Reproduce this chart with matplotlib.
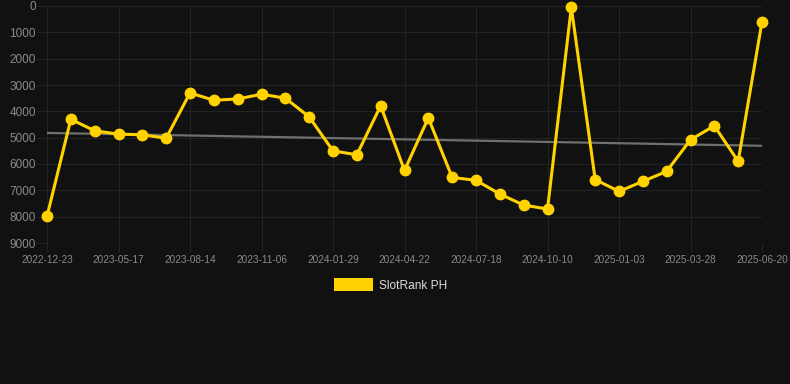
import numpy as np
import matplotlib
matplotlib.use("Agg")
import matplotlib.pyplot as plt

plt.rcParams["font.family"] = ["Liberation Sans", "DejaVu Sans"]

# category labels shown on the x axis (every third point)
tick_labels = ["2022-12-23", "2023-05-17", "2023-08-14", "2023-11-06", "2024-01-29",
               "2024-04-22", "2024-07-18", "2024-10-10", "2025-01-03", "2025-03-28",
               "2025-06-20"]

# rank values, one per sample
ranks = [7990, 4300, 4740, 4865, 4890, 5020, 3300, 3580, 3530, 3350,
         3500, 4210, 5500, 5650, 3790, 6245, 4250, 6510, 6620, 7140,
         7560, 7710, 50, 6590, 7040, 6660, 6280, 5080, 4550, 5900, 595]

series_name = "SlotRank PH"

bg = "#111111"
gold = "#FFD200"
grid_c = "#232323"
text_c = "#8a8a8a"

x = np.arange(len(ranks))
slope, icpt = np.polyfit(x, ranks, 1)

fig = plt.figure(figsize=(7.9, 3.84), dpi=100, facecolor=bg)
ax = fig.add_axes([47 / 790, 1 - 243 / 384, 715 / 790, 237 / 384], facecolor=bg)

ax.plot(x, slope * x + icpt, color="#707070", lw=1.6, zorder=2)
ax.plot(x, ranks, color=gold, lw=2.2, marker="o", ms=7.5, zorder=3,
        clip_on=False, label=series_name)

ax.set_xlim(0, len(ranks) - 1)
ax.set_ylim(9000, 0)
ax.set_yticks(range(0, 9001, 1000))
ax.set_xticks(x[::3])
ax.set_xticklabels(tick_labels)
ax.grid(True, color=grid_c, lw=0.8)
ax.set_axisbelow(True)
for s in ax.spines.values():
    s.set_visible(False)
ax.tick_params(axis="y", colors=grid_c, labelcolor=text_c, labelsize=8.5, length=7, width=0.8, pad=1)
ax.tick_params(axis="x", colors=grid_c, labelcolor=text_c, labelsize=7.2, length=6.5, width=0.8, pad=2)

handle = plt.Rectangle((0, 0), 1, 1, facecolor=gold, edgecolor="none")
leg = fig.legend([handle], [series_name], loc="center", bbox_to_anchor=(0.494, 1 - 285 / 384),
                 frameon=False, handlelength=3.25, handleheight=1.2, fontsize=8.6,
                 labelcolor="#dddddd", handletextpad=0.5)

fig.savefig("out.png", dpi=100, facecolor=bg)
